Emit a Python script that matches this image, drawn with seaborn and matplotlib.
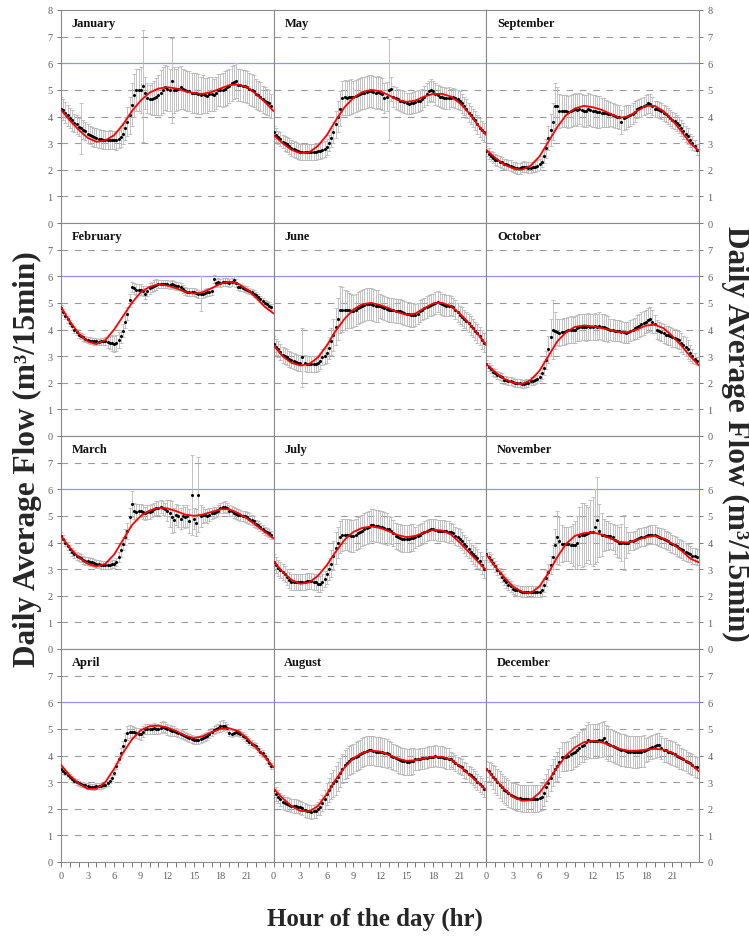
import numpy as np
import matplotlib
matplotlib.use("Agg")
import matplotlib.pyplot as plt
import seaborn as sns

sns.set_theme(style="white")
plt.rcParams['font.family'] = ['Liberation Serif', 'DejaVu Serif']

# ==============================
# data: 15-min average flow (m3/15min), error half-widths, hourly fitted curve
# ==============================
quarter_hours = [i / 4 for i in range(96)]
fit_hours = list(range(25))

jan_flow = [4.30, 4.25, 4.15, 4.05, 3.95, 3.85, 3.75, 3.70, 3.60, 3.55, 3.50, 3.45,
            3.35, 3.30, 3.25, 3.22, 3.20, 3.17, 3.15, 3.13, 3.12, 3.12, 3.13, 3.12,
            3.12, 3.10, 3.15, 3.22, 3.35, 3.55, 3.80, 4.05, 4.45, 4.80, 5.00, 5.00,
            5.00, 5.15, 4.90, 4.70, 4.65, 4.65, 4.70, 4.75, 4.80, 4.90, 5.00, 5.10,
            5.05, 5.00, 5.35, 5.00, 5.00, 5.05, 5.10, 5.05, 5.00, 4.95, 4.95, 4.90,
            4.90, 4.88, 4.85, 4.80, 4.85, 4.80, 4.78, 4.85, 4.85, 4.80, 4.90, 5.00,
            5.00, 5.00, 5.05, 5.10, 5.15, 5.25, 5.30, 5.35, 5.20, 5.20, 5.15, 5.15,
            5.10, 5.05, 5.00, 4.95, 4.85, 4.80, 4.75, 4.65, 4.60, 4.55, 4.50, 4.40]
jan_err = [.45, .40, .40, .40, .38, .38, .35, .35, .35, .95, .35, .35,
           .35, .35, .35, .35, .35, .35, .35, .35, .35, .35, .35, .35,
           .35, .35, .35, .35, .40, .45, .55, .70, .80, .80, .80, .80,
           .85, 2.10, .60, .55, .55, .60, .65, .70, .75, .85, .85, .85,
           .85, .80, 1.60, .85, .80, .80, .80, .75, .75, .75, .75, .75,
           .75, .75, .75, .70, .70, .65, .65, .65, .65, .60, .60, .60,
           .60, .65, .65, .65, .65, .65, .65, .65, .60, .60, .60, .60,
           .60, .60, .60, .60, .55, .55, .55, .50, .50, .50, .50, .45]
jan_fit = [4.25, 3.85, 3.50, 3.20, 3.05, 3.10, 3.30, 3.70, 4.20, 4.60, 4.90, 5.05, 5.10,
           5.05, 4.95, 4.88, 4.85, 4.92, 5.05, 5.18, 5.20, 5.10, 4.85, 4.55, 4.20]

feb_flow = [4.80, 4.65, 4.50, 4.38, 4.25, 4.12, 4.00, 3.90, 3.80, 3.75, 3.70, 3.65,
            3.60, 3.58, 3.56, 3.55, 3.55, 3.54, 3.55, 3.55, 3.55, 3.52, 3.50, 3.48,
            3.45, 3.50, 3.60, 3.75, 3.95, 4.30, 4.60, 5.10, 5.60, 5.55, 5.50, 5.50,
            5.50, 5.45, 5.35, 5.45, 5.55, 5.60, 5.65, 5.68, 5.70, 5.70, 5.72, 5.70,
            5.70, 5.68, 5.70, 5.68, 5.65, 5.62, 5.58, 5.52, 5.45, 5.42, 5.40, 5.40,
            5.40, 5.38, 5.35, 5.35, 5.35, 5.38, 5.40, 5.42, 5.45, 5.90, 5.75, 5.80,
            5.75, 5.78, 5.80, 5.78, 5.75, 5.80, 5.85, 5.75, 5.60, 5.58, 5.55, 5.52,
            5.50, 5.45, 5.40, 5.35, 5.30, 5.22, 5.15, 5.08, 5.00, 4.95, 4.90, 4.85]
feb_err = [.12, .12, .12, .12, .12, .12, .12, .12, .12, .12, .12, .12,
           .12, .12, .12, .12, .12, .12, .12, .12, .15, .20, .25, .30,
           .30, .30, .30, .25, .25, .25, .25, .25, .20, .20, .20, .20,
           .20, .20, .20, .20, .20, .20, .20, .20, .15, .15, .15, .15,
           .15, .15, .15, .15, .15, .15, .15, .15, .15, .15, .15, .15,
           .15, .15, .15, .65, .15, .15, .15, .15, .15, .15, .15, .15,
           .15, .15, .15, .15, .15, .15, .15, .15, .12, .12, .12, .12,
           .12, .12, .12, .12, .12, .12, .12, .12, .12, .12, .12, .12]
feb_fit = [4.85, 4.30, 3.85, 3.55, 3.45, 3.60, 4.00, 4.50, 5.00, 5.40, 5.60, 5.70, 5.65,
           5.55, 5.42, 5.35, 5.40, 5.55, 5.72, 5.80, 5.72, 5.50, 5.20, 4.85, 4.60]

mar_flow = [4.25, 4.12, 4.00, 3.88, 3.75, 3.65, 3.58, 3.50, 3.45, 3.40, 3.35, 3.32,
            3.30, 3.27, 3.25, 3.22, 3.20, 3.18, 3.17, 3.16, 3.15, 3.15, 3.16, 3.18,
            3.20, 3.28, 3.45, 3.70, 3.95, 4.20, 4.45, 4.95, 5.45, 5.20, 5.15, 5.20,
            5.20, 5.15, 5.10, 5.15, 5.15, 5.20, 5.25, 5.30, 5.30, 5.35, 5.30, 5.25,
            5.20, 5.10, 4.95, 4.85, 5.05, 5.00, 4.90, 5.00, 4.95, 5.00, 4.80, 5.80,
            4.90, 4.75, 5.80, 5.00, 5.05, 5.02, 5.00, 5.05, 5.10, 5.12, 5.15, 5.20,
            5.30, 5.32, 5.35, 5.30, 5.20, 5.18, 5.12, 5.08, 5.05, 5.02, 5.00, 4.98,
            4.95, 4.90, 4.85, 4.80, 4.70, 4.65, 4.60, 4.52, 4.45, 4.40, 4.35, 4.30]
mar_err = [.15, .15, .15, .15, .15, .15, .15, .15, .15, .15, .15, .15,
           .15, .15, .15, .15, .15, .15, .15, .15, .15, .15, .15, .15,
           .15, .15, .20, .25, .25, .30, .30, .35, .50, .30, .30, .25,
           .25, .25, .25, .25, .25, .25, .25, .25, .25, .25, .25, .25,
           .40, .50, .60, .45, .40, .40, .40, .40, .40, .40, .45, 1.50,
           .40, .50, 1.40, .40, .30, .25, .25, .25, .20, .20, .20, .20,
           .20, .20, .20, .20, .20, .20, .20, .20, .20, .20, .20, .20,
           .20, .20, .20, .20, .15, .15, .15, .15, .15, .15, .15, .15]
mar_fit = [4.25, 3.80, 3.45, 3.20, 3.10, 3.20, 3.55, 4.10, 4.65, 5.00, 5.20, 5.30, 5.28,
           5.18, 5.05, 5.00, 5.05, 5.15, 5.25, 5.25, 5.10, 4.90, 4.65, 4.40, 4.15]

apr_flow = [3.50, 3.42, 3.35, 3.28, 3.20, 3.12, 3.05, 3.00, 2.95, 2.92, 2.90, 2.88,
            2.85, 2.83, 2.82, 2.82, 2.85, 2.85, 2.85, 2.88, 2.90, 2.95, 3.05, 3.15,
            3.35, 3.60, 3.85, 4.10, 4.35, 4.60, 4.85, 4.90, 4.90, 4.88, 4.85, 4.82,
            4.80, 4.90, 5.00, 5.00, 5.00, 5.00, 5.02, 5.00, 5.00, 5.05, 5.08, 5.05,
            4.98, 4.95, 4.92, 4.92, 4.90, 4.85, 4.82, 4.78, 4.72, 4.68, 4.65, 4.62,
            4.58, 4.58, 4.60, 4.62, 4.65, 4.70, 4.75, 4.82, 4.90, 4.95, 5.00, 5.05,
            5.10, 5.12, 5.12, 5.05, 4.85, 4.82, 4.85, 4.88, 4.85, 4.80, 4.75, 4.68,
            4.60, 4.52, 4.45, 4.40, 4.35, 4.25, 4.15, 4.08, 3.98, 3.85, 3.72, 3.60]
apr_err = [.10, .10, .10, .10, .10, .10, .10, .10, .10, .10, .10, .10,
           .10, .10, .10, .10, .10, .10, .10, .10, .10, .10, .10, .10,
           .10, .12, .15, .18, .20, .25, .25, .25, .20, .20, .20, .20,
           .20, .20, .20, .20, .20, .20, .20, .20, .20, .20, .20, .20,
           .20, .20, .20, .20, .15, .15, .15, .15, .15, .15, .15, .15,
           .15, .15, .15, .15, .15, .15, .15, .15, .15, .15, .15, .15,
           .20, .20, .15, .15, .12, .12, .12, .12, .12, .12, .12, .12,
           .12, .12, .12, .12, .12, .12, .12, .12, .12, .12, .12, .12]
apr_fit = [3.65, 3.25, 2.95, 2.75, 2.75, 3.00, 3.50, 4.10, 4.60, 4.95, 5.10, 5.12, 5.05,
           4.92, 4.75, 4.65, 4.72, 4.88, 5.00, 5.02, 4.92, 4.65, 4.30, 3.95, 3.55]

may_flow = [3.40, 3.30, 3.22, 3.15, 3.05, 3.00, 2.95, 2.90, 2.82, 2.78, 2.75, 2.72,
            2.68, 2.66, 2.65, 2.65, 2.65, 2.66, 2.66, 2.68, 2.70, 2.72, 2.75, 2.78,
            2.85, 3.00, 3.20, 3.40, 3.70, 4.00, 4.30, 4.70, 4.72, 4.70, 4.72, 4.75,
            4.75, 4.78, 4.82, 4.85, 4.88, 4.90, 4.92, 4.95, 4.95, 4.92, 4.90, 4.92,
            4.90, 4.85, 4.70, 4.75, 5.00, 5.05, 4.75, 4.70, 4.65, 4.60, 4.58, 4.55,
            4.50, 4.48, 4.50, 4.52, 4.55, 4.58, 4.60, 4.65, 4.75, 4.85, 4.95, 5.00,
            4.95, 4.85, 4.80, 4.75, 4.72, 4.70, 4.68, 4.70, 4.70, 4.72, 4.68, 4.65,
            4.60, 4.50, 4.40, 4.30, 4.15, 4.05, 3.95, 3.85, 3.70, 3.58, 3.48, 3.40]
may_err = [.25, .25, .25, .25, .25, .28, .28, .30, .30, .30, .30, .30,
           .30, .30, .30, .30, .30, .30, .30, .30, .30, .30, .30, .30,
           .30, .30, .35, .40, .50, .60, .65, .65, .65, .65, .65, .65,
           .60, .60, .60, .60, .60, .60, .60, .60, .60, .60, .60, .60,
           .60, .60, .55, .55, 1.90, .45, .40, .40, .40, .40, .40, .40,
           .40, .40, .40, .40, .40, .40, .40, .40, .40, .40, .40, .40,
           .40, .40, .40, .40, .40, .40, .40, .40, .35, .35, .35, .35,
           .35, .35, .35, .35, .35, .35, .35, .35, .35, .35, .35, .35]
may_fit = [3.30, 3.00, 2.75, 2.62, 2.65, 2.90, 3.30, 3.85, 4.35, 4.70, 4.92, 5.00, 4.95,
           4.80, 4.62, 4.55, 4.60, 4.75, 4.85, 4.85, 4.75, 4.50, 4.15, 3.70, 3.30]

jun_flow = [3.45, 3.35, 3.25, 3.15, 3.05, 3.00, 2.95, 2.90, 2.85, 2.80, 2.78, 2.76,
            2.75, 2.95, 2.74, 2.72, 2.70, 2.70, 2.72, 2.72, 2.75, 2.80, 2.95, 3.00,
            3.10, 3.30, 3.55, 3.80, 4.10, 4.40, 4.75, 4.75, 4.75, 4.75, 4.72, 4.70,
            4.70, 4.75, 4.80, 4.85, 4.90, 4.92, 4.95, 4.95, 4.95, 4.92, 4.90, 4.90,
            4.90, 4.85, 4.80, 4.78, 4.75, 4.72, 4.72, 4.70, 4.70, 4.68, 4.65, 4.62,
            4.60, 4.58, 4.55, 4.55, 4.55, 4.60, 4.70, 4.75, 4.80, 4.85, 4.90, 4.92,
            4.95, 5.00, 5.05, 5.00, 4.95, 4.92, 4.90, 4.90, 4.90, 4.85, 4.75, 4.65,
            4.55, 4.48, 4.40, 4.32, 4.25, 4.15, 4.05, 3.95, 3.85, 3.75, 3.62, 3.50]
jun_err = [.30, .30, .30, .30, .30, .30, .30, .30, .30, .30, .30, .30,
           .30, 1.10, .30, .30, .30, .30, .30, .30, .30, .30, .30, .30,
           .35, .40, .50, .60, .70, .80, .90, .85, .75, .70, .65, .65,
           .60, .60, .60, .60, .60, .60, .60, .60, .60, .60, .60, .60,
           .45, .45, .45, .45, .45, .45, .45, .45, .45, .45, .45, .45,
           .45, .45, .45, .45, .40, .40, .40, .40, .40, .40, .40, .40,
           .40, .40, .40, .40, .40, .40, .40, .40, .35, .35, .35, .35,
           .35, .35, .35, .35, .35, .35, .35, .35, .35, .35, .35, .35]
jun_fit = [3.40, 3.00, 2.75, 2.65, 2.70, 2.95, 3.40, 3.95, 4.40, 4.75, 4.95, 5.00, 4.92,
           4.80, 4.65, 4.55, 4.60, 4.80, 4.98, 5.00, 4.88, 4.60, 4.25, 3.85, 3.40]

jul_flow = [3.25, 3.15, 3.05, 2.98, 2.90, 2.80, 2.70, 2.60, 2.52, 2.50, 2.50, 2.50,
            2.50, 2.50, 2.52, 2.55, 2.55, 2.55, 2.52, 2.50, 2.45, 2.45, 2.50, 2.62,
            2.80, 3.00, 3.20, 3.50, 3.80, 4.00, 4.20, 4.28, 4.30, 4.30, 4.28, 4.25,
            4.25, 4.30, 4.35, 4.40, 4.45, 4.50, 4.55, 4.60, 4.65, 4.65, 4.62, 4.62,
            4.60, 4.58, 4.55, 4.52, 4.50, 4.45, 4.35, 4.25, 4.20, 4.18, 4.15, 4.15,
            4.15, 4.15, 4.18, 4.18, 4.20, 4.25, 4.30, 4.35, 4.40, 4.45, 4.48, 4.50,
            4.50, 4.48, 4.45, 4.45, 4.45, 4.45, 4.42, 4.40, 4.40, 4.35, 4.25, 4.20,
            4.15, 4.05, 3.95, 3.85, 3.75, 3.65, 3.55, 3.48, 3.40, 3.30, 3.15, 3.00]
jul_err = [.30, .30, .30, .30, .30, .30, .30, .30, .30, .30, .30, .30,
           .30, .30, .30, .30, .30, .30, .30, .30, .30, .30, .30, .30,
           .35, .40, .50, .55, .60, .60, .60, .60, .60, .60, .60, .60,
           .60, .60, .60, .60, .60, .60, .60, .60, .60, .60, .60, .60,
           .60, .60, .60, .60, .50, .50, .50, .50, .50, .50, .50, .50,
           .50, .50, .50, .50, .40, .40, .40, .40, .40, .40, .40, .40,
           .40, .40, .40, .40, .40, .40, .40, .40, .35, .35, .35, .35,
           .35, .35, .35, .35, .35, .35, .35, .35, .35, .35, .35, .35]
jul_fit = [3.30, 2.90, 2.60, 2.45, 2.50, 2.75, 3.15, 3.65, 4.10, 4.40, 4.55, 4.60, 4.55,
           4.42, 4.28, 4.20, 4.25, 4.38, 4.48, 4.45, 4.30, 4.00, 3.65, 3.30, 2.95]

aug_flow = [2.70, 2.55, 2.45, 2.35, 2.25, 2.20, 2.18, 2.15, 2.12, 2.10, 2.10, 2.08,
            2.05, 2.02, 1.95, 1.92, 1.90, 1.88, 1.90, 1.92, 2.00, 2.05, 2.20, 2.35,
            2.55, 2.70, 2.85, 2.95, 3.05, 3.20, 3.35, 3.50, 3.65, 3.72, 3.80, 3.85,
            3.90, 3.95, 4.00, 4.05, 4.10, 4.15, 4.18, 4.20, 4.20, 4.18, 4.15, 4.15,
            4.15, 4.12, 4.10, 4.08, 4.05, 4.00, 3.95, 3.90, 3.85, 3.82, 3.80, 3.78,
            3.75, 3.75, 3.78, 3.80, 3.85, 3.85, 3.88, 3.90, 3.90, 3.92, 3.95, 3.95,
            3.95, 4.00, 3.95, 3.95, 3.95, 3.92, 3.90, 3.88, 3.85, 3.80, 3.72, 3.65,
            3.60, 3.55, 3.45, 3.40, 3.30, 3.25, 3.18, 3.10, 3.00, 2.92, 2.85, 2.75]
aug_err = [.25, .25, .25, .25, .25, .25, .25, .25, .25, .25, .25, .25,
           .25, .25, .25, .25, .25, .25, .25, .25, .25, .30, .30, .35,
           .40, .45, .50, .50, .55, .55, .55, .55, .55, .55, .55, .55,
           .55, .55, .55, .55, .55, .55, .55, .55, .55, .55, .55, .55,
           .55, .55, .55, .55, .50, .50, .50, .50, .50, .50, .50, .50,
           .50, .50, .50, .50, .40, .40, .40, .40, .40, .40, .40, .40,
           .40, .40, .40, .40, .40, .40, .40, .40, .30, .30, .30, .30,
           .30, .30, .30, .30, .30, .30, .30, .30, .30, .30, .30, .30]
aug_fit = [2.75, 2.40, 2.10, 1.92, 1.90, 2.10, 2.55, 3.10, 3.55, 3.90, 4.10, 4.18, 4.15,
           4.02, 3.88, 3.80, 3.82, 3.90, 3.95, 3.95, 3.85, 3.60, 3.30, 3.00, 2.70]

sep_flow = [2.70, 2.60, 2.52, 2.45, 2.38, 2.35, 2.30, 2.28, 2.22, 2.20, 2.18, 2.15,
            2.10, 2.08, 2.05, 2.05, 2.10, 2.12, 2.10, 2.08, 2.08, 2.10, 2.12, 2.15,
            2.20, 2.30, 2.50, 2.80, 3.20, 3.50, 3.80, 4.40, 4.40, 4.20, 4.20, 4.22,
            4.20, 4.18, 4.22, 4.25, 4.28, 4.25, 4.30, 4.25, 4.22, 4.20, 4.28, 4.25,
            4.22, 4.20, 4.18, 4.18, 4.15, 4.15, 4.12, 4.10, 4.08, 4.05, 4.02, 4.00,
            3.98, 3.80, 3.95, 3.98, 4.02, 4.05, 4.10, 4.18, 4.28, 4.32, 4.35, 4.40,
            4.45, 4.50, 4.48, 4.40, 4.30, 4.28, 4.25, 4.20, 4.12, 4.08, 4.02, 3.95,
            3.88, 3.82, 3.75, 3.68, 3.55, 3.45, 3.35, 3.25, 3.10, 3.00, 2.90, 2.75]
sep_err = [.20, .20, .20, .20, .20, .20, .20, .20, .20, .20, .20, .20,
           .20, .20, .20, .20, .20, .20, .20, .20, .20, .20, .20, .20,
           .20, .20, .25, .35, .45, .60, .70, .85, .70, .65, .60, .60,
           .60, .60, .60, .60, .60, .60, .60, .60, .60, .60, .60, .60,
           .60, .60, .60, .60, .55, .55, .50, .50, .45, .45, .45, .45,
           .45, .45, .45, .45, .40, .40, .40, .40, .35, .35, .35, .35,
           .35, .35, .35, .35, .30, .30, .30, .30, .30, .30, .30, .30,
           .30, .30, .30, .30, .30, .30, .30, .30, .25, .25, .20, .20]
sep_fit = [2.75, 2.45, 2.20, 2.05, 2.00, 2.15, 2.50, 3.05, 3.60, 4.05, 4.30, 4.40, 4.35,
           4.25, 4.10, 3.95, 4.00, 4.20, 4.40, 4.40, 4.20, 3.85, 3.45, 3.00, 2.70]

oct_flow = [2.70, 2.60, 2.50, 2.42, 2.35, 2.30, 2.25, 2.20, 2.12, 2.10, 2.08, 2.05,
            2.02, 2.00, 2.00, 1.98, 1.95, 1.96, 1.98, 2.00, 2.05, 2.08, 2.10, 2.15,
            2.20, 2.35, 2.55, 2.85, 3.25, 3.70, 4.00, 3.95, 3.90, 3.88, 3.90, 3.92,
            3.95, 3.98, 4.00, 3.98, 4.00, 4.05, 4.08, 4.10, 4.10, 4.08, 4.12, 4.10,
            4.10, 4.12, 4.10, 4.15, 4.10, 4.08, 4.05, 4.02, 4.00, 3.98, 3.96, 3.95,
            3.95, 3.92, 3.90, 3.88, 3.90, 3.95, 4.00, 4.05, 4.10, 4.15, 4.20, 4.25,
            4.30, 4.35, 4.40, 4.30, 4.20, 4.00, 3.95, 3.90, 3.85, 3.80, 3.78, 3.75,
            3.70, 3.68, 3.65, 3.60, 3.50, 3.42, 3.35, 3.25, 3.10, 3.00, 2.90, 2.80]
oct_err = [.15, .15, .15, .15, .15, .15, .15, .15, .15, .15, .15, .15,
           .15, .15, .15, .15, .15, .15, .15, .15, .15, .15, .15, .15,
           .15, .20, .25, .35, .50, .70, 1.10, .70, .50, .50, .50, .50,
           .50, .50, .50, .50, .50, .50, .50, .50, .50, .50, .50, .50,
           .50, .50, .50, .50, .50, .50, .50, .50, .40, .40, .40, .40,
           .40, .40, .40, .40, .40, .40, .40, .40, .45, .45, .45, .45,
           .45, .45, .45, .45, .35, .35, .35, .35, .35, .35, .35, .35,
           .35, .35, .35, .35, .35, .35, .35, .35, .30, .25, .20, .15]
oct_fit = [2.70, 2.40, 2.15, 2.00, 1.95, 2.10, 2.45, 3.00, 3.55, 3.90, 4.10, 4.15, 4.12,
           4.05, 3.98, 3.90, 3.90, 4.00, 4.15, 4.18, 4.05, 3.75, 3.40, 3.00, 2.65]

nov_flow = [3.55, 3.45, 3.35, 3.22, 3.10, 2.98, 2.85, 2.72, 2.60, 2.50, 2.42, 2.35,
            2.25, 2.22, 2.20, 2.18, 2.15, 2.15, 2.15, 2.15, 2.15, 2.15, 2.15, 2.15,
            2.15, 2.20, 2.40, 2.65, 2.90, 3.15, 3.45, 3.90, 4.20, 4.05, 3.95, 3.95,
            3.95, 3.95, 3.92, 3.90, 3.90, 4.00, 4.25, 4.28, 4.30, 4.32, 4.35, 4.38,
            4.40, 4.60, 4.85, 4.45, 4.30, 4.28, 4.25, 4.25, 4.25, 4.20, 4.10, 4.05,
            4.00, 4.00, 4.00, 4.00, 4.00, 4.05, 4.05, 4.10, 4.15, 4.18, 4.20, 4.22,
            4.25, 4.28, 4.30, 4.30, 4.30, 4.25, 4.20, 4.18, 4.15, 4.10, 4.05, 4.00,
            3.95, 3.90, 3.85, 3.80, 3.75, 3.70, 3.65, 3.60, 3.55, 3.50, 3.48, 3.45]
nov_err = [.20, .20, .20, .20, .20, .20, .20, .20, .20, .20, .20, .20,
           .20, .20, .20, .20, .20, .20, .20, .20, .20, .20, .20, .20,
           .20, .20, .25, .30, .30, .35, .45, .60, 1.00, .90, .70, .65,
           .65, .65, .70, .80, .90, 1.00, 1.10, 1.20, 1.20, 1.10, 1.00, 1.20,
           1.30, 1.40, 1.60, 1.00, .80, .60, .55, .55, .50, .50, .55, .60,
           .60, .70, 1.05, .60, .40, .35, .35, .35, .35, .35, .35, .35,
           .35, .35, .35, .35, .35, .35, .35, .35, .35, .35, .35, .35,
           .35, .35, .35, .35, .35, .35, .35, .35, .30, .30, .30, .30]
nov_fit = [3.55, 3.10, 2.70, 2.35, 2.15, 2.10, 2.35, 2.85, 3.45, 3.95, 4.25, 4.35, 4.38,
           4.30, 4.15, 4.02, 4.00, 4.10, 4.20, 4.25, 4.15, 3.95, 3.70, 3.40, 3.25]

dec_flow = [3.50, 3.40, 3.30, 3.20, 3.10, 3.00, 2.90, 2.80, 2.72, 2.65, 2.58, 2.52,
            2.48, 2.45, 2.42, 2.40, 2.38, 2.38, 2.38, 2.38, 2.38, 2.38, 2.38, 2.38,
            2.40, 2.45, 2.60, 2.80, 2.98, 3.15, 3.35, 3.50, 3.60, 3.75, 3.95, 3.95,
            3.95, 4.00, 4.05, 4.10, 4.15, 4.22, 4.28, 4.35, 4.40, 4.50, 4.60, 4.55,
            4.55, 4.55, 4.55, 4.58, 4.60, 4.65, 4.50, 4.45, 4.38, 4.35, 4.32, 4.28,
            4.25, 4.22, 4.20, 4.18, 4.15, 4.15, 4.12, 4.12, 4.12, 4.15, 4.15, 4.18,
            4.22, 4.25, 4.30, 4.32, 4.35, 4.38, 4.38, 4.30, 4.22, 4.20, 4.15, 4.12,
            4.10, 4.05, 4.00, 3.95, 3.90, 3.85, 3.80, 3.75, 3.70, 3.65, 3.58, 3.55]
dec_err = [.30, .35, .40, .45, .50, .50, .50, .50, .50, .50, .50, .50,
           .50, .50, .50, .50, .50, .50, .50, .50, .50, .50, .50, .50,
           .50, .50, .50, .50, .50, .50, .50, .50, .55, .55, .55, .55,
           .55, .55, .60, .60, .60, .60, .60, .60, .65, .65, .65, .65,
           .65, .65, .65, .65, .65, .65, .65, .65, .60, .60, .60, .60,
           .60, .60, .60, .60, .60, .60, .60, .60, .60, .60, .60, .60,
           .45, .45, .45, .45, .45, .45, .45, .45, .45, .45, .45, .45,
           .45, .45, .45, .45, .40, .40, .40, .40, .40, .40, .40, .40]
dec_fit = [3.50, 3.10, 2.75, 2.45, 2.30, 2.32, 2.60, 3.05, 3.55, 4.00, 4.30, 4.50, 4.55,
           4.50, 4.38, 4.25, 4.18, 4.18, 4.22, 4.25, 4.22, 4.10, 3.90, 3.70, 3.40]

month_names = ['January', 'February', 'March', 'April', 'May', 'June', 'July',
               'August', 'September', 'October', 'November', 'December']
month_data = [(jan_flow, jan_err, jan_fit), (feb_flow, feb_err, feb_fit),
              (mar_flow, mar_err, mar_fit), (apr_flow, apr_err, apr_fit),
              (may_flow, may_err, may_fit), (jun_flow, jun_err, jun_fit),
              (jul_flow, jul_err, jul_fit), (aug_flow, aug_err, aug_fit),
              (sep_flow, sep_err, sep_fit), (oct_flow, oct_err, oct_fit),
              (nov_flow, nov_err, nov_fit), (dec_flow, dec_err, dec_fit)]

# ==============================
# figure: 4 rows x 3 columns, months run down the columns
# ==============================
W, H = 749, 937
fig, axes = plt.subplots(4, 3, figsize=(W / 100, H / 100), dpi=100)
fig.subplots_adjust(left=61 / W, right=699 / W, top=1 - 11 / H, bottom=1 - 863 / H,
                    hspace=0, wspace=0)

spine_col = '#8a8a8a'
tick_col = '#606060'

for c in range(3):
    for r in range(4):
        ax = axes[r, c]
        m = c * 4 + r
        flow, err, fit = month_data[m]

        ax.set_xlim(0, 24)
        ax.set_ylim(0, 8)
        for g in [1, 2, 3, 4, 5, 7]:
            ax.axhline(g, color='#9a9a9a', lw=0.8, ls=(0, (6, 6)), zorder=0)
        ax.axhline(6, color='#9090ff', lw=0.9, zorder=0)

        ax.errorbar(quarter_hours, flow, yerr=err, fmt='none', ecolor='#b8b8b8',
                    elinewidth=0.6, capsize=1.6, capthick=0.6, zorder=1)
        sns.scatterplot(x=quarter_hours, y=flow, ax=ax, color='black', s=5,
                        marker='o', linewidth=0, zorder=3)
        sns.lineplot(x=fit_hours, y=fit, ax=ax, color='red', lw=1.3, zorder=4)

        ax.text(0.05, 0.923, month_names[m], transform=ax.transAxes,
                fontsize=9, fontweight='bold', color='#111111', va='baseline')

        for sp in ax.spines.values():
            sp.set_color(spine_col)
            sp.set_linewidth(0.8)

        # y ticks only on outer columns
        ax.set_yticks(range(9) if r == 0 else range(8))
        if c == 0:
            ax.tick_params(axis='y', left=True, right=False, labelleft=True,
                           labelright=False)
        elif c == 2:
            ax.tick_params(axis='y', left=False, right=True, labelleft=False,
                           labelright=True)
        else:
            ax.tick_params(axis='y', left=False, right=False, labelleft=False,
                           labelright=False)
        ax.tick_params(axis='y', length=3, width=0.6, colors=tick_col,
                       labelsize=7.5, pad=3)

        # x ticks only on bottom row
        if r == 3:
            ax.set_xticks(range(24))
            ax.set_xticklabels([str(h) if h % 3 == 0 else '' for h in range(24)])
            ax.tick_params(axis='x', bottom=True, length=3.5, width=0.6,
                           colors=tick_col, labelsize=7.5, pad=3)
        else:
            ax.set_xticks([])
        ax.set_xlabel('')
        ax.set_ylabel('')

fig.text(0.5, 0.012, 'Hour of the day (hr)', ha='center', va='baseline',
         fontsize=18, fontweight='bold')
fig.text(0.036, 0.51, 'Daily Average Flow (m³/15min)', rotation=90,
         ha='center', va='center', fontsize=22.5, fontweight='bold')
fig.text(0.982, 0.537, 'Daily Average Flow (m³/15min)', rotation=270,
         ha='center', va='center', fontsize=22.5, fontweight='bold')

plt.savefig('out.png', dpi=100)
